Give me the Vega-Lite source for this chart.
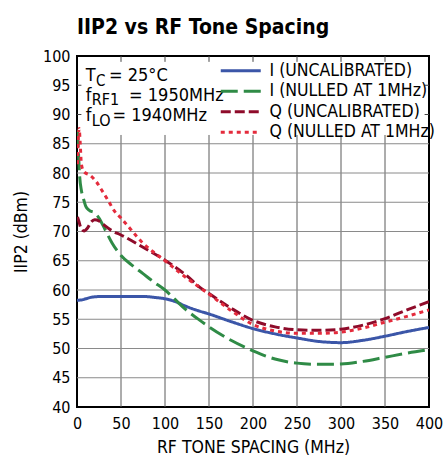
{
  "$schema": "https://vega.github.io/schema/vega-lite/v6.json",
  "width": 352,
  "height": 351,
  "autosize": {"type": "none"},
  "padding": {"left": 77, "top": 56, "right": 17, "bottom": 56},
  "background": "white",
  "title": {
    "text": "IIP2 vs RF Tone Spacing",
    "anchor": "start",
    "frame": "group",
    "font": "DejaVu Sans Condensed, sans-serif",
    "fontSize": 21,
    "fontWeight": "bold",
    "color": "black",
    "offset": 10
  },
  "resolve": {"axis": {"x": "independent", "y": "independent"}},
  "config": {
    "view": {"stroke": "black", "strokeWidth": 2},
    "font": "DejaVu Sans Condensed, sans-serif",
    "axis": {
      "labelFont": "DejaVu Sans Condensed, sans-serif",
      "titleFont": "DejaVu Sans Condensed, sans-serif",
      "labelFontSize": 16,
      "titleFontSize": 17.5,
      "titleFontWeight": "normal",
      "labelColor": "black",
      "titleColor": "black",
      "grid": false,
      "ticks": false,
      "domain": false,
      "labelOverlap": false,
      "labelFlush": false
    },
    "legend": {
      "labelFont": "DejaVu Sans Condensed, sans-serif"
    }
  },
  "layer": [
    {
      "data": {"values": [{"t": 50}, {"t": 100}, {"t": 150}, {"t": 200}, {"t": 250}, {"t": 300}, {"t": 350}]},
      "mark": {"type": "rule", "color": "#5a5a5a", "strokeWidth": 1},
      "encoding": {
        "x": {"field": "t", "type": "quantitative", "axis": null},
        "y": {"datum": 40, "type": "quantitative", "axis": null},
        "y2": {"datum": 86.5}
      }
    },
    {
      "data": {"values": [{"u": 45}, {"u": 50}, {"u": 55}, {"u": 60}, {"u": 65}, {"u": 70}, {"u": 75}, {"u": 80}, {"u": 85}]},
      "mark": {"type": "rule", "color": "#8a8a8a", "strokeWidth": 1},
      "encoding": {
        "y": {"field": "u", "type": "quantitative", "axis": null},
        "x": {"datum": 0, "type": "quantitative", "axis": null},
        "x2": {"datum": 400}
      }
    },
    {
      "data": {"values": [{"t": 50}, {"t": 100}, {"t": 150}, {"t": 200}, {"t": 250}, {"t": 300}, {"t": 350}]},
      "mark": {"type": "rule", "color": "#444", "strokeWidth": 1},
      "encoding": {
        "x": {"field": "t", "type": "quantitative", "axis": null},
        "y": {"datum": 100, "type": "quantitative", "axis": null},
        "y2": {"datum": 99.0}
      }
    },
    {
      "data": {"values": [{"u": 95}, {"u": 90}]},
      "mark": {"type": "rule", "color": "#444", "strokeWidth": 1},
      "encoding": {
        "y": {"field": "u", "type": "quantitative", "axis": null},
        "x": {"datum": 0, "type": "quantitative", "axis": null},
        "x2": {"datum": 5}
      }
    },
    {
      "data": {"values": [{"u": 95}, {"u": 90}]},
      "mark": {"type": "rule", "color": "#444", "strokeWidth": 1},
      "encoding": {
        "y": {"field": "u", "type": "quantitative", "axis": null},
        "x": {"datum": 395, "type": "quantitative", "axis": null},
        "x2": {"datum": 400}
      }
    },
    {
      "data": {
        "values": [
          {"s": "I (UNCALIBRATED)", "f": 0, "v": 58.25},
          {"s": "I (UNCALIBRATED)", "f": 5, "v": 58.3},
          {"s": "I (UNCALIBRATED)", "f": 10, "v": 58.5},
          {"s": "I (UNCALIBRATED)", "f": 18, "v": 58.8},
          {"s": "I (UNCALIBRATED)", "f": 30, "v": 58.9},
          {"s": "I (UNCALIBRATED)", "f": 50, "v": 58.9},
          {"s": "I (UNCALIBRATED)", "f": 75, "v": 58.9},
          {"s": "I (UNCALIBRATED)", "f": 90, "v": 58.7},
          {"s": "I (UNCALIBRATED)", "f": 100, "v": 58.5},
          {"s": "I (UNCALIBRATED)", "f": 112, "v": 58.0},
          {"s": "I (UNCALIBRATED)", "f": 124, "v": 57.2},
          {"s": "I (UNCALIBRATED)", "f": 137, "v": 56.5},
          {"s": "I (UNCALIBRATED)", "f": 150, "v": 55.9},
          {"s": "I (UNCALIBRATED)", "f": 175, "v": 54.6},
          {"s": "I (UNCALIBRATED)", "f": 200, "v": 53.4},
          {"s": "I (UNCALIBRATED)", "f": 225, "v": 52.5},
          {"s": "I (UNCALIBRATED)", "f": 250, "v": 51.8},
          {"s": "I (UNCALIBRATED)", "f": 275, "v": 51.2},
          {"s": "I (UNCALIBRATED)", "f": 300, "v": 51.0},
          {"s": "I (UNCALIBRATED)", "f": 325, "v": 51.4},
          {"s": "I (UNCALIBRATED)", "f": 350, "v": 52.1},
          {"s": "I (UNCALIBRATED)", "f": 375, "v": 52.9},
          {"s": "I (UNCALIBRATED)", "f": 400, "v": 53.6},

          {"s": "I (NULLED AT 1MHz)", "f": 0.5, "v": 87.3},
          {"s": "I (NULLED AT 1MHz)", "f": 1.5, "v": 84.0},
          {"s": "I (NULLED AT 1MHz)", "f": 3, "v": 79.5},
          {"s": "I (NULLED AT 1MHz)", "f": 5, "v": 77.0},
          {"s": "I (NULLED AT 1MHz)", "f": 7, "v": 75.8},
          {"s": "I (NULLED AT 1MHz)", "f": 10, "v": 74.3},
          {"s": "I (NULLED AT 1MHz)", "f": 14, "v": 73.6},
          {"s": "I (NULLED AT 1MHz)", "f": 20, "v": 73.2},
          {"s": "I (NULLED AT 1MHz)", "f": 25, "v": 72.3},
          {"s": "I (NULLED AT 1MHz)", "f": 32, "v": 70.3},
          {"s": "I (NULLED AT 1MHz)", "f": 40, "v": 68.0},
          {"s": "I (NULLED AT 1MHz)", "f": 50, "v": 65.9},
          {"s": "I (NULLED AT 1MHz)", "f": 62, "v": 64.3},
          {"s": "I (NULLED AT 1MHz)", "f": 75, "v": 62.8},
          {"s": "I (NULLED AT 1MHz)", "f": 87, "v": 61.4},
          {"s": "I (NULLED AT 1MHz)", "f": 100, "v": 60.0},
          {"s": "I (NULLED AT 1MHz)", "f": 112, "v": 58.3},
          {"s": "I (NULLED AT 1MHz)", "f": 124, "v": 56.6},
          {"s": "I (NULLED AT 1MHz)", "f": 137, "v": 55.1},
          {"s": "I (NULLED AT 1MHz)", "f": 150, "v": 53.7},
          {"s": "I (NULLED AT 1MHz)", "f": 175, "v": 51.4},
          {"s": "I (NULLED AT 1MHz)", "f": 200, "v": 49.6},
          {"s": "I (NULLED AT 1MHz)", "f": 225, "v": 48.2},
          {"s": "I (NULLED AT 1MHz)", "f": 250, "v": 47.5},
          {"s": "I (NULLED AT 1MHz)", "f": 275, "v": 47.3},
          {"s": "I (NULLED AT 1MHz)", "f": 300, "v": 47.35},
          {"s": "I (NULLED AT 1MHz)", "f": 325, "v": 47.8},
          {"s": "I (NULLED AT 1MHz)", "f": 350, "v": 48.5},
          {"s": "I (NULLED AT 1MHz)", "f": 375, "v": 49.2},
          {"s": "I (NULLED AT 1MHz)", "f": 400, "v": 49.8},

          {"s": "Q (UNCALIBRATED)", "f": 0.5, "v": 72.5},
          {"s": "Q (UNCALIBRATED)", "f": 2, "v": 71.8},
          {"s": "Q (UNCALIBRATED)", "f": 5, "v": 70.4},
          {"s": "Q (UNCALIBRATED)", "f": 8, "v": 70.1},
          {"s": "Q (UNCALIBRATED)", "f": 12, "v": 70.6},
          {"s": "Q (UNCALIBRATED)", "f": 16, "v": 71.6},
          {"s": "Q (UNCALIBRATED)", "f": 20, "v": 72.0},
          {"s": "Q (UNCALIBRATED)", "f": 25, "v": 71.8},
          {"s": "Q (UNCALIBRATED)", "f": 30, "v": 71.2},
          {"s": "Q (UNCALIBRATED)", "f": 40, "v": 70.1},
          {"s": "Q (UNCALIBRATED)", "f": 50, "v": 69.4},
          {"s": "Q (UNCALIBRATED)", "f": 75, "v": 67.3},
          {"s": "Q (UNCALIBRATED)", "f": 100, "v": 65.1},
          {"s": "Q (UNCALIBRATED)", "f": 125, "v": 62.4},
          {"s": "Q (UNCALIBRATED)", "f": 140, "v": 60.4},
          {"s": "Q (UNCALIBRATED)", "f": 150, "v": 59.4},
          {"s": "Q (UNCALIBRATED)", "f": 175, "v": 56.9},
          {"s": "Q (UNCALIBRATED)", "f": 200, "v": 54.8},
          {"s": "Q (UNCALIBRATED)", "f": 225, "v": 53.7},
          {"s": "Q (UNCALIBRATED)", "f": 250, "v": 53.2},
          {"s": "Q (UNCALIBRATED)", "f": 275, "v": 53.1},
          {"s": "Q (UNCALIBRATED)", "f": 300, "v": 53.3},
          {"s": "Q (UNCALIBRATED)", "f": 325, "v": 54.0},
          {"s": "Q (UNCALIBRATED)", "f": 350, "v": 55.1},
          {"s": "Q (UNCALIBRATED)", "f": 375, "v": 56.6},
          {"s": "Q (UNCALIBRATED)", "f": 400, "v": 58.0},

          {"s": "Q (NULLED AT 1MHz)", "f": 0.5, "v": 81.5},
          {"s": "Q (NULLED AT 1MHz)", "f": 1.5, "v": 86.0},
          {"s": "Q (NULLED AT 1MHz)", "f": 2.5, "v": 87.6},
          {"s": "Q (NULLED AT 1MHz)", "f": 3.5, "v": 85.5},
          {"s": "Q (NULLED AT 1MHz)", "f": 5, "v": 81.5},
          {"s": "Q (NULLED AT 1MHz)", "f": 8, "v": 80.2},
          {"s": "Q (NULLED AT 1MHz)", "f": 15, "v": 79.6},
          {"s": "Q (NULLED AT 1MHz)", "f": 22, "v": 78.5},
          {"s": "Q (NULLED AT 1MHz)", "f": 28, "v": 77.1},
          {"s": "Q (NULLED AT 1MHz)", "f": 35, "v": 75.4},
          {"s": "Q (NULLED AT 1MHz)", "f": 43, "v": 73.4},
          {"s": "Q (NULLED AT 1MHz)", "f": 50, "v": 72.3},
          {"s": "Q (NULLED AT 1MHz)", "f": 75, "v": 68.0},
          {"s": "Q (NULLED AT 1MHz)", "f": 100, "v": 65.0},
          {"s": "Q (NULLED AT 1MHz)", "f": 125, "v": 62.0},
          {"s": "Q (NULLED AT 1MHz)", "f": 150, "v": 59.3},
          {"s": "Q (NULLED AT 1MHz)", "f": 175, "v": 56.5},
          {"s": "Q (NULLED AT 1MHz)", "f": 200, "v": 54.1},
          {"s": "Q (NULLED AT 1MHz)", "f": 225, "v": 53.0},
          {"s": "Q (NULLED AT 1MHz)", "f": 250, "v": 52.6},
          {"s": "Q (NULLED AT 1MHz)", "f": 275, "v": 52.6},
          {"s": "Q (NULLED AT 1MHz)", "f": 300, "v": 52.8},
          {"s": "Q (NULLED AT 1MHz)", "f": 325, "v": 53.5},
          {"s": "Q (NULLED AT 1MHz)", "f": 350, "v": 54.5},
          {"s": "Q (NULLED AT 1MHz)", "f": 375, "v": 55.5},
          {"s": "Q (NULLED AT 1MHz)", "f": 400, "v": 56.6}
        ]
      },
      "mark": {"type": "line", "strokeWidth": 3, "interpolate": "monotone", "clip": true},
      "encoding": {
        "x": {
          "field": "f", "type": "quantitative",
          "scale": {"domain": [0, 400], "nice": false, "zero": false},
          "axis": {"title": "RF TONE SPACING (MHz)", "orient": "bottom", "values": [0, 50, 100, 150, 200, 250, 300, 350, 400], "labelPadding": 8, "titlePadding": 7}
        },
        "y": {
          "field": "v", "type": "quantitative",
          "scale": {"domain": [40, 100], "nice": false, "zero": false},
          "axis": {"title": "IIP2 (dBm)", "orient": "left", "values": [40, 45, 50, 55, 60, 65, 70, 75, 80, 85, 90, 95, 100], "labelPadding": 7, "titlePadding": 12}
        },
        "color": {
          "field": "s", "type": "nominal",
          "scale": {
            "domain": ["I (UNCALIBRATED)", "I (NULLED AT 1MHz)", "Q (UNCALIBRATED)", "Q (NULLED AT 1MHz)"],
            "range": ["#3b56a8", "#2f8b46", "#8e0b2a", "#e42b3c"]
          },
          "legend": {
            "title": null,
            "orient": "none",
            "legendX": 140,
            "legendY": 6,
            "padding": 0,
            "symbolType": "M-1,0H7",
            "symbolSize": 100,
            "symbolStrokeWidth": 3,
            "labelFontSize": 17.5,
            "labelColor": "black",
            "labelOffset": 35,
            "rowPadding": 1.5,
            "labelLimit": 300
          }
        },
        "strokeDash": {
          "field": "s", "type": "nominal",
          "scale": {
            "domain": ["I (UNCALIBRATED)", "I (NULLED AT 1MHz)", "Q (UNCALIBRATED)", "Q (NULLED AT 1MHz)"],
            "range": [[1, 0], [17, 6], [10, 4], [4, 4]]
          },
          "legend": {
            "title": null,
            "orient": "none",
            "legendX": 140,
            "legendY": 6,
            "padding": 0,
            "symbolType": "M-1,0H7",
            "symbolSize": 100,
            "symbolStrokeWidth": 3,
            "labelFontSize": 17.5,
            "labelColor": "black",
            "labelOffset": 35,
            "rowPadding": 1.5,
            "labelLimit": 300
          }
        }
      }
    },
    {
      "data": {"values": [{}]},
      "mark": {"type": "text", "text": "T", "fontSize": 18, "align": "left", "baseline": "alphabetic", "color": "black"},
      "encoding": {"x": {"datum": 9.9, "type": "quantitative", "axis": null}, "y": {"datum": 95.67, "type": "quantitative", "axis": null}}
    },
    {
      "data": {"values": [{}]},
      "mark": {"type": "text", "text": "C", "fontSize": 15, "align": "left", "baseline": "alphabetic", "color": "black"},
      "encoding": {"x": {"datum": 21.5, "type": "quantitative", "axis": null}, "y": {"datum": 94.82, "type": "quantitative", "axis": null}}
    },
    {
      "data": {"values": [{}]},
      "mark": {"type": "text", "text": "= 25°C", "fontSize": 18, "align": "left", "baseline": "alphabetic", "color": "black"},
      "encoding": {"x": {"datum": 36.4, "type": "quantitative", "axis": null}, "y": {"datum": 95.67, "type": "quantitative", "axis": null}}
    },
    {
      "data": {"values": [{}]},
      "mark": {"type": "text", "text": "f", "fontSize": 18, "align": "left", "baseline": "alphabetic", "color": "black"},
      "encoding": {"x": {"datum": 9.9, "type": "quantitative", "axis": null}, "y": {"datum": 92.35, "type": "quantitative", "axis": null}}
    },
    {
      "data": {"values": [{}]},
      "mark": {"type": "text", "text": "RF1", "fontSize": 16, "align": "left", "baseline": "alphabetic", "color": "black"},
      "encoding": {"x": {"datum": 16.7, "type": "quantitative", "axis": null}, "y": {"datum": 91.67, "type": "quantitative", "axis": null}}
    },
    {
      "data": {"values": [{}]},
      "mark": {"type": "text", "text": "= 1950MHz", "fontSize": 18, "align": "left", "baseline": "alphabetic", "color": "black"},
      "encoding": {"x": {"datum": 59.2, "type": "quantitative", "axis": null}, "y": {"datum": 92.35, "type": "quantitative", "axis": null}}
    },
    {
      "data": {"values": [{}]},
      "mark": {"type": "text", "text": "f", "fontSize": 18, "align": "left", "baseline": "alphabetic", "color": "black"},
      "encoding": {"x": {"datum": 9.9, "type": "quantitative", "axis": null}, "y": {"datum": 88.83, "type": "quantitative", "axis": null}}
    },
    {
      "data": {"values": [{}]},
      "mark": {"type": "text", "text": "LO", "fontSize": 16, "align": "left", "baseline": "alphabetic", "color": "black"},
      "encoding": {"x": {"datum": 16.7, "type": "quantitative", "axis": null}, "y": {"datum": 87.97, "type": "quantitative", "axis": null}}
    },
    {
      "data": {"values": [{}]},
      "mark": {"type": "text", "text": "= 1940MHz", "fontSize": 18, "align": "left", "baseline": "alphabetic", "color": "black"},
      "encoding": {"x": {"datum": 40.3, "type": "quantitative", "axis": null}, "y": {"datum": 88.83, "type": "quantitative", "axis": null}}
    }
  ]
}
